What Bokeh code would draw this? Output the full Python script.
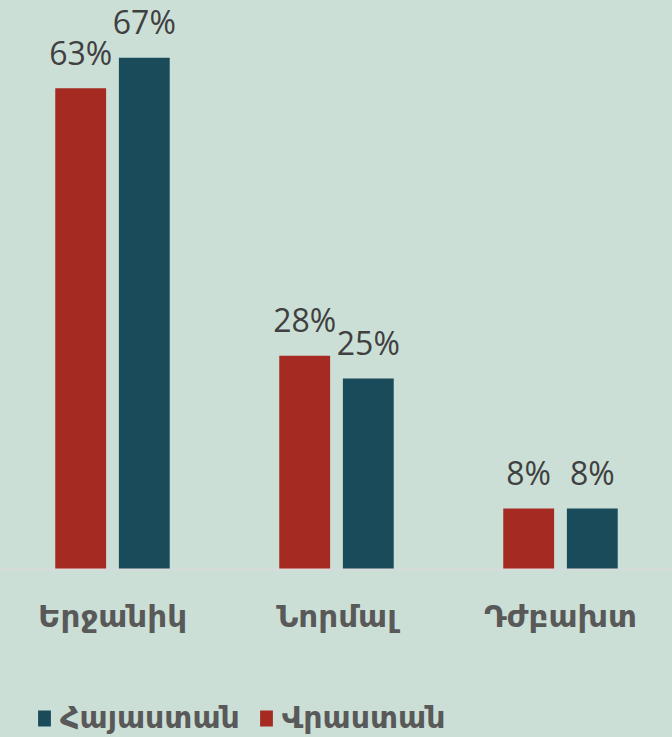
from bokeh.plotting import figure
from bokeh.models import (FactorRange, Range1d, ColumnDataSource, Legend, LegendItem,
                          GlobalInlineStyleSheet, Span)
from bokeh.transform import dodge
from bokeh.core.properties import value
from bokeh.embed import file_html
from bokeh.resources import INLINE

categories = ["Երջանիկ", "Նորմալ", "Դժբախտ"]
georgia = [63, 28, 8]
armenia = [67, 25, 8]
name_armenia = "Հայաստան"
name_georgia = "Վրաստան"

BG = "#cbdfd6"
RED = "#a52a21"
TEAL = "#194b5b"
FONT = "DejaVu Sans"

src = ColumnDataSource(dict(
    cat=categories, geo=georgia, arm=armenia, zero=[0] * len(categories),
    geo_lbl=[f"{v}%" for v in georgia], arm_lbl=[f"{v}%" for v in armenia]))

p = figure(width=672, height=737,
           x_range=FactorRange(*categories, range_padding=0),
           y_range=Range1d(-22.0, 74.5),
           output_backend="svg", toolbar_location=None,
           min_border_left=0, min_border_right=0, min_border_top=0, min_border_bottom=0)
p.stylesheets = [GlobalInlineStyleSheet(css=f"body{{margin:0;background:{BG};overflow:hidden}}")]
p.background_fill_color = BG
p.border_fill_color = BG
p.outline_line_color = None
p.grid.visible = False
p.axis.visible = False

p.add_layout(Span(location=0, dimension="width", line_color="#d9d9d9", line_width=2))

off = 0.142
w = 0.227
r_geo = p.vbar(x=dodge("cat", -off, range=p.x_range), top="geo", width=w, bottom=0,
               source=src, fill_color=RED, line_color=None)
r_arm = p.vbar(x=dodge("cat", off, range=p.x_range), top="arm", width=w, bottom=0,
               source=src, fill_color=TEAL, line_color=None)

for col, lbl, dx in (("geo", "geo_lbl", -off), ("arm", "arm_lbl", off)):
    p.text(x=dodge("cat", dx, range=p.x_range), y=col, text=lbl, source=src,
           text_align="center", text_baseline="alphabetic", y_offset=-36,
           text_font=value("Open Sans"), text_font_size="32px", text_color="#404040")

# category labels under the baseline
p.text(x="cat", y="zero", text="cat", source=src,
       text_align="center", text_baseline="alphabetic", y_offset=47,
       text_font=value(FONT), text_font_size="31px", text_font_style="bold",
       text_color="#595959")

legend = Legend(items=[LegendItem(label=name_armenia, renderers=[r_arm]),
                       LegendItem(label=name_georgia, renderers=[r_geo])],
                orientation="horizontal", location=(36, 2))
legend.background_fill_alpha = 0
legend.border_line_color = None
legend.glyph_width = 16
legend.glyph_height = 20
legend.label_text_font = FONT
legend.label_text_font_size = "30px"
legend.label_text_font_style = "bold"
legend.label_text_color = "#595959"
legend.spacing = 18
legend.label_standoff = 8
legend.padding = 0
legend.margin = 0
p.add_layout(legend, "center")

open("out.html", "w").write(file_html(p, INLINE))
